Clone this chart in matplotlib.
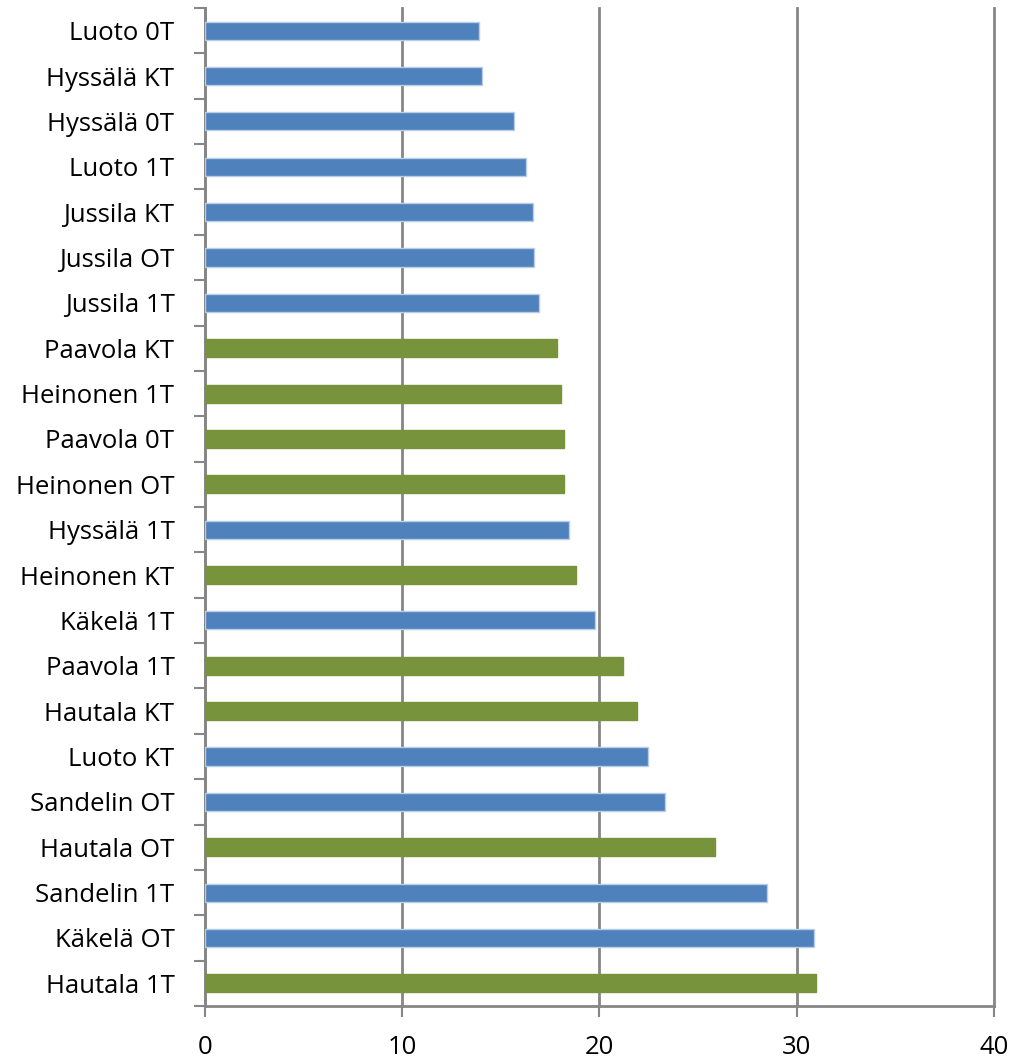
import matplotlib.pyplot as plt
import numpy as np

plt.rcParams['font.family'] = ['Open Sans', 'DejaVu Sans']

# Categories from bottom to top
labels = ['Hautala 1T', 'Käkelä OT', 'Sandelin 1T', 'Hautala OT', 'Sandelin OT',
          'Luoto KT', 'Hautala KT', 'Paavola 1T', 'Käkelä 1T', 'Heinonen KT',
          'Hyssälä 1T', 'Heinonen OT', 'Paavola 0T', 'Heinonen 1T', 'Paavola KT',
          'Jussila 1T', 'Jussila OT', 'Jussila KT', 'Luoto 1T', 'Hyssälä 0T',
          'Hyssälä KT', 'Luoto 0T']
values = [30.97, 30.88, 28.5, 25.85, 23.3,
          22.44, 21.9, 21.19, 19.78, 18.8,
          18.43, 18.2, 18.2, 18.04, 17.84,
          16.94, 16.66, 16.62, 16.29, 15.64,
          14.05, 13.87]
green_groups = ['Paavola', 'Heinonen', 'Hautala']

blue = '#4F81BD'
green = '#77933C'
grid_col = '#868686'

colors = [green if lab.split()[0] in green_groups else blue for lab in labels]
edges = ['#B9CDE5' if c == blue else green for c in colors]

fig = plt.figure(figsize=(10.13, 10.61), dpi=100)
ax = fig.add_axes([0.2024, 0.0518, 0.7788, 0.9407])

y = np.arange(len(labels))
ax.barh(y, values, height=0.4, color=colors, edgecolor=edges, linewidth=1, zorder=3)

ax.set_xlim(0, 40)
ax.set_ylim(-0.5, len(labels) - 0.5)
ax.set_xticks([0, 10, 20, 30, 40])
ax.grid(axis='x', color=grid_col, linewidth=2, zorder=0)
for gl in ax.get_xgridlines():
    gl.set_clip_on(False)

ax.set_yticks(y)
ax.set_yticklabels(labels)
ax.set_yticks(np.arange(-0.5, len(labels)), minor=True)
ax.tick_params(axis='y', which='major', length=0, pad=22, labelsize=18.5)
ax.tick_params(axis='y', which='minor', length=8, width=1.5, color=grid_col)
ax.tick_params(axis='x', length=8, width=1.5, color=grid_col, labelsize=18.5, pad=13)

for s in ['top', 'right']:
    ax.spines[s].set_visible(False)
for s in ['left', 'bottom']:
    ax.spines[s].set_color(grid_col)
    ax.spines[s].set_linewidth(2)

fig.savefig('out.png', dpi=100)
